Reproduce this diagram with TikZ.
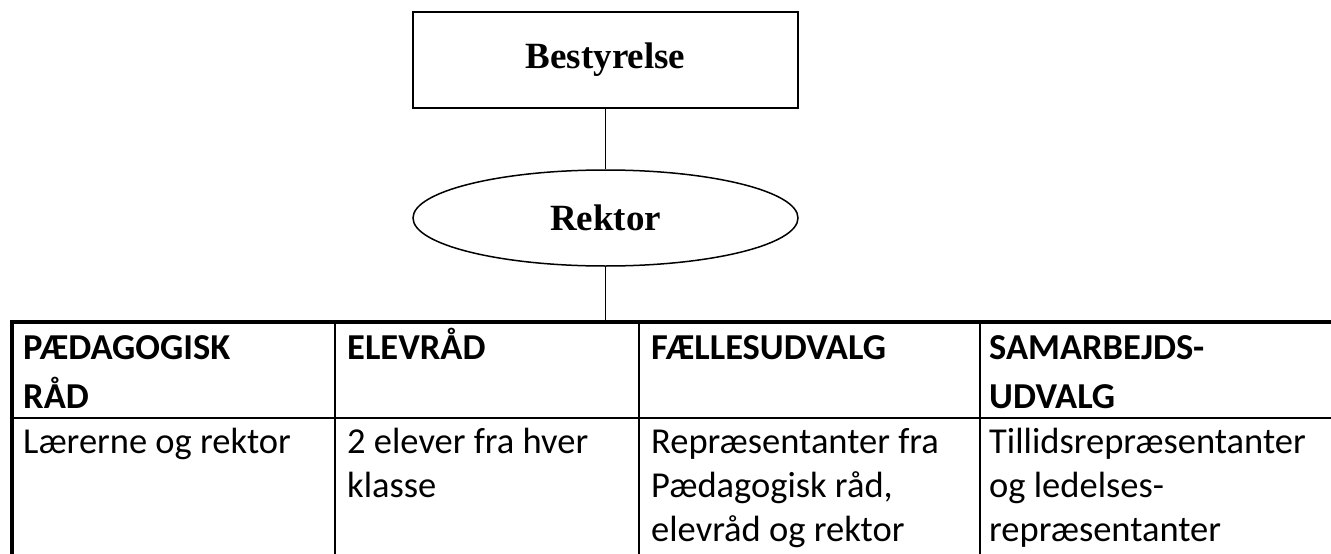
\documentclass[tikz,border=0pt]{standalone}
\usepackage{fontspec}
\setmainfont{Carlito}
\newfontfamily\timesbf{Liberation Serif}
\usetikzlibrary{shapes.geometric}
\tikzset{
  unitbox/.style={draw, line width=1.5pt, minimum width=385pt, minimum height=96pt, inner sep=0pt,
    font=\timesbf\bfseries\fontsize{37}{44}\selectfont},
  cell/.style={anchor=north west, inner sep=0pt, align=left, font=\fontsize{36.5}{44}\selectfont},
  head/.style={cell, font=\bfseries\fontsize{36.5}{49}\selectfont},
  thin rule/.style={line width=2pt},
  thick rule/.style={line width=4pt},
}
\begin{document}
\begin{tikzpicture}[x=1pt,y=-1pt]
\useasboundingbox (0,0) rectangle (1331,554);
% organisation
\node[unitbox] (bestyrelse) at (605.5,60) {Bestyrelse};
\node[unitbox, ellipse] (rektor) at (605.5,218) {Rektor};
\coordinate (tabletop) at (605.5,322);
\draw[line width=1.5pt] (bestyrelse) -- (rektor) -- (tabletop);
% table
\draw[thick rule] (10,322) -- (1345,322);
\draw[thick rule] (12,320) -- (12,570);
\draw[thin rule] (12,418) -- (1345,418);
\foreach \x in {335,639,980}
  \draw[thin rule] (\x,322) -- (\x,570);
\node[head] (paedhead) at (23,325)  {\strut PÆDAGOGISK\\RÅD};
\node[head] (elevhead) at (347,325) {\strut ELEVRÅD};
\node[head] (faelhead) at (651,325) {\strut FÆLLESUDVALG};
\node[head] (samhead)  at (989,325) {\strut SAMARBEJDS-\\UDVALG};
\node[cell] (paedbody) at (23,422.7)  {\strut Lærerne og rektor};
\node[cell] (elevbody) at (347,422.7) {\strut 2 elever fra hver\\klasse};
\node[cell] (faelbody) at (651,422.7) {\strut Repræsentanter fra\\Pædagogisk råd,\\elevråd og rektor};
\node[cell] (sambody)  at (989,422.7) {\strut Tillidsrepræsentanter\\og ledelses-\\repræsentanter};
\end{tikzpicture}
\end{document}
